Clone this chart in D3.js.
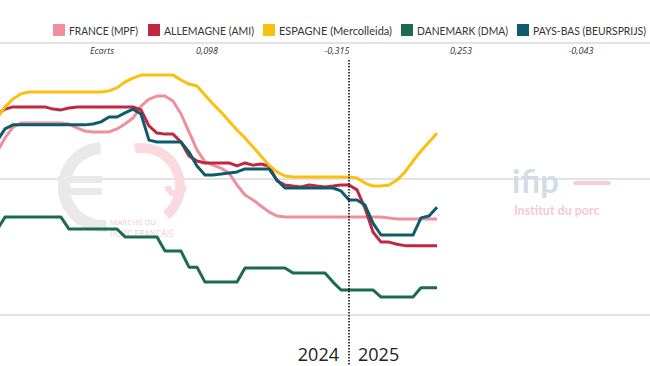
<!DOCTYPE html>
<html><head><meta charset="utf-8">
<script src="https://cdn.jsdelivr.net/npm/d3@7"></script>
<style>html,body{margin:0;padding:0;background:#fff;}svg{display:block;}</style>
</head><body>
<svg id="chart" width="650" height="366"></svg>
<script>
// weekly prices (€/kg), 2024 S09 .. 2025 S12
const weekCount = 56;
const firstWeek2025Index = 44;
const france = [2.099,2.151,2.191,2.206,2.206,2.206,2.206,2.206,2.206,2.202,2.188,2.176,2.173,2.173,2.173,2.184,2.202,2.224,2.268,2.294,2.305,2.305,2.287,2.239,2.173,2.107,2.063,2.051,2.040,2.022,1.978,1.941,1.923,1.901,1.879,1.864,1.860,1.860,1.860,1.860,1.860,1.860,1.860,1.860,1.860,1.860,1.860,1.860,1.860,1.857,1.853,1.853,1.853,1.853,1.853,1.853];
const allemagne = [2.239,2.257,2.265,2.265,2.265,2.265,2.265,2.257,2.254,2.261,2.265,2.265,2.265,2.265,2.265,2.265,2.265,2.265,2.254,2.195,2.169,2.165,2.165,2.136,2.085,2.066,2.059,2.059,2.059,2.059,2.048,2.059,2.051,2.055,2.048,1.993,1.978,1.974,1.971,1.978,1.974,1.971,1.974,1.978,1.978,1.960,1.893,1.805,1.768,1.768,1.760,1.755,1.755,1.755,1.755,1.755];
const espagne = [2.224,2.265,2.294,2.313,2.320,2.320,2.320,2.320,2.320,2.320,2.320,2.320,2.320,2.320,2.324,2.335,2.357,2.371,2.382,2.382,2.382,2.382,2.382,2.364,2.349,2.342,2.309,2.276,2.246,2.213,2.180,2.151,2.118,2.085,2.051,2.026,2.011,2.007,2.007,2.007,2.007,2.007,2.007,2.007,2.007,2.004,1.985,1.974,1.974,1.978,1.996,2.026,2.066,2.103,2.136,2.168];
const danemark = [1.813,1.860,1.860,1.860,1.860,1.860,1.860,1.860,1.860,1.816,1.816,1.816,1.816,1.816,1.816,1.816,1.787,1.787,1.787,1.787,1.787,1.735,1.735,1.735,1.676,1.676,1.621,1.621,1.621,1.621,1.621,1.673,1.673,1.673,1.673,1.673,1.673,1.654,1.654,1.654,1.654,1.654,1.621,1.592,1.592,1.592,1.592,1.592,1.566,1.566,1.566,1.566,1.566,1.600,1.600,1.600];
const paysBas = [2.140,2.184,2.199,2.199,2.199,2.199,2.199,2.199,2.199,2.199,2.199,2.199,2.202,2.210,2.228,2.228,2.243,2.257,2.239,2.143,2.136,2.136,2.136,2.136,2.099,2.048,2.015,2.015,2.018,2.022,2.026,2.037,2.037,2.037,2.037,1.996,1.967,1.967,1.967,1.967,1.967,1.967,1.967,1.956,1.923,1.923,1.904,1.838,1.794,1.794,1.794,1.794,1.794,1.857,1.864,1.896];

const seriesNames = ["FRANCE (MPF)","ALLEMAGNE (AMI)","ESPAGNE (Mercolleida)","DANEMARK (DMA)","PAYS-BAS (BEURSPRIJS)"];
const seriesColors = ["#f08f9c","#c0283f","#fbbf10","#1b6b4d","#0e5c6b"];
const seriesValues = [france, allemagne, espagne, danemark, paysBas];
const ecartLabels = ["Ecarts","0,098","-0,315","0,253","-0,043"];
const yearLabels = ["2024","2025"];
const gridValues = [1.5, 2.0, 2.5];

const svg = d3.select("#chart");
const W = 650, H = 366;
const x = d3.scaleLinear().domain([0, weekCount - 1]).range([-3, 437]);
const y = d3.scaleLinear().domain([1.5, 2.5]).range([315, 43]);

// gridlines
svg.append("g").selectAll("line").data(gridValues).join("line")
  .attr("x1", 0).attr("x2", W)
  .attr("y1", d => y(d)).attr("y2", d => y(d))
  .attr("stroke", "#dadada").attr("stroke-width", 1.5);

// watermark: marché du porc français
const wm = svg.append("g");
wm.append("path")
  .attr("transform", "translate(103,187)")
  .attr("d", d3.arc()({innerRadius: 33, outerRadius: 45, startAngle: Math.PI * 0.97, endAngle: Math.PI * 1.98}))
  .attr("fill", "#e9e9e9");
wm.append("rect").attr("x", 58).attr("y", 176).attr("width", 44).attr("height", 7).attr("fill", "#e9e9e9");
wm.append("rect").attr("x", 58).attr("y", 188).attr("width", 44).attr("height", 7).attr("fill", "#e9e9e9");
wm.append("path")
  .attr("transform", "translate(142,186)")
  .attr("d", d3.arc()({innerRadius: 33, outerRadius: 43, startAngle: -0.06 * Math.PI, endAngle: Math.PI * 0.78}))
  .attr("fill", "#fadadf");
wm.append("path")
  .attr("transform", "translate(176,186)")
  .attr("d", d3.arc()({innerRadius: 5, outerRadius: 11, startAngle: Math.PI * 0.5, endAngle: Math.PI * 1.5}))
  .attr("fill", "#fadadf");
wm.append("text").attr("x", 110).attr("y", 225).text("MARCHÉ DU")
  .attr("font-family", "Open Sans").attr("font-size", 8).attr("fill", "#eccfd3");
wm.append("text").attr("x", 110).attr("y", 237).text("PORC FRANÇAIS")
  .attr("font-family", "Open Sans").attr("font-size", 8.5).attr("fill", "#eccfd3");

// watermark: ifip
svg.append("text").attr("x", 512).attr("y", 193).text("ifip")
  .attr("font-family", "Lato").attr("font-weight", 700).attr("font-size", 33).attr("fill", "#d3dce5");
svg.append("rect").attr("x", 573).attr("y", 181).attr("width", 38).attr("height", 4).attr("rx", 2).attr("fill", "#f5cdd2");
svg.append("text").attr("x", 514).attr("y", 215).text("Institut du porc")
  .attr("font-family", "Lato").attr("font-weight", 700).attr("font-size", 12.5).attr("fill", "#f4cbd0");

// lines
const line = d3.line().x((d, i) => x(i)).y(d => y(d));
svg.append("g").selectAll("path").data(seriesValues).join("path")
  .attr("d", d => line(d))
  .attr("fill", "none")
  .attr("stroke", (d, i) => seriesColors[i])
  .attr("stroke-width", 3)
  .attr("stroke-linejoin", "round");

// year divider
const xDiv = x(firstWeek2025Index);
svg.append("line").attr("x1", xDiv).attr("x2", xDiv).attr("y1", 60).attr("y2", H)
  .attr("stroke", "#111").attr("stroke-width", 1.6).attr("stroke-dasharray", "1.5,1.5");
svg.append("text").attr("x", xDiv - 10).attr("y", 361).attr("text-anchor", "end").text(yearLabels[0])
  .attr("font-family", "Open Sans").attr("font-size", 18).attr("fill", "#222");
svg.append("text").attr("x", xDiv + 9).attr("y", 361).attr("text-anchor", "start").text(yearLabels[1])
  .attr("font-family", "Open Sans").attr("font-size", 18).attr("fill", "#222");

// legend
const legendX = [53, 148, 263, 401, 517];
const legendTextW = [69, 90, 113, 91, 113];
const lg = svg.append("g").selectAll("g").data(seriesNames).join("g")
  .attr("transform", (d, i) => `translate(${legendX[i]},24)`);
lg.append("rect").attr("width", 12).attr("height", 12).attr("fill", (d, i) => seriesColors[i]);
lg.append("text").attr("x", 16).attr("y", 10.5).text(d => d)
  .attr("textLength", (d, i) => legendTextW[i]).attr("lengthAdjust", "spacingAndGlyphs")
  .attr("font-family", "Lato").attr("font-size", 12).attr("fill", "#333");

// ecarts row
const ecartX = [102, 207, 337, 461, 581];
svg.append("g").selectAll("text").data(ecartLabels).join("text")
  .attr("x", (d, i) => ecartX[i]).attr("y", 54).attr("text-anchor", "middle")
  .text(d => d)
  .attr("font-family", "Open Sans").attr("font-style", "italic").attr("font-size", 9).attr("fill", "#333");
</script>
</body></html>
